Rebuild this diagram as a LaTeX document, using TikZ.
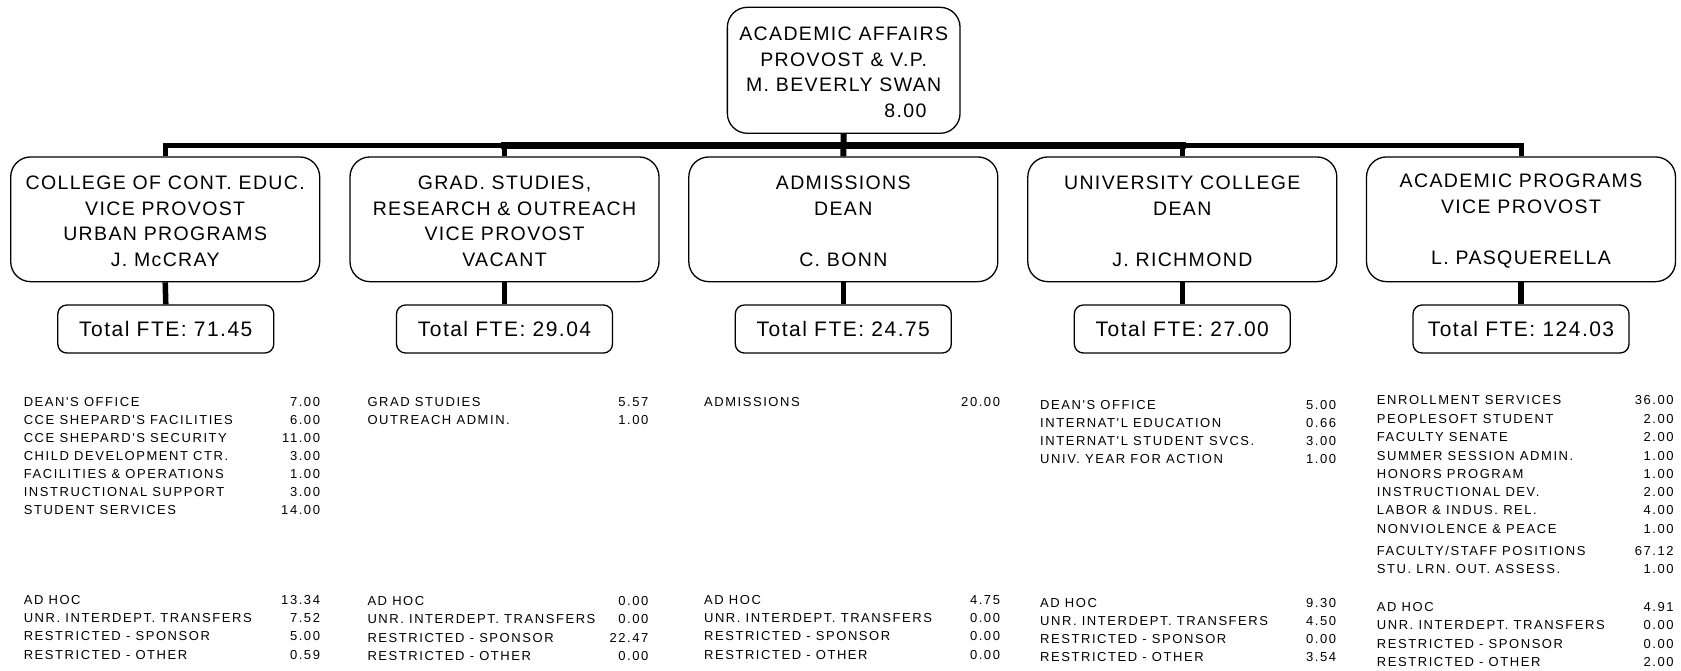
\documentclass[tikz,border=0pt]{standalone}
\usepackage{fontspec}
\newfontfamily\boxfont{Liberation Sans}[LetterSpace=7]
\newfontfamily\listfont{Liberation Sans}[LetterSpace=12]
\newcommand\frow[6]{%
  \node[lab,anchor=base west] (#1l) at (#2,#4) {#5};
  \node[lab,anchor=base east] (#1v) at (#3+1.5,#4) {#6};}
\newcommand\tallstrut{\rule{0pt}{17.2pt}}
\tikzset{
  box/.style={draw, line width=1.3pt, rounded corners=20pt, minimum width=309pt,
    minimum height=124.7pt, align=center, inner sep=0pt,
    font=\boxfont\fontsize{19.5}{25.6}\selectfont},
  topbox/.style={box, minimum width=232.7pt, minimum height=126pt},
  ftebox/.style={draw, line width=1.3pt, rounded corners=9pt, minimum width=216pt,
    minimum height=48pt, inner sep=0pt, font=\boxfont\fontsize{21}{25}\selectfont},
  lab/.style={inner sep=0pt, font=\listfont\fontsize{13}{18}\selectfont},
  bus/.style={line width=5pt, line join=miter},
  stem/.style={line width=5.5pt},
}
\begin{document}
\begin{tikzpicture}[x=1pt,y=-1pt]
\useasboundingbox (0,0) rectangle (1681,670);
% top box
\node[topbox] (top) at (843.7,70.3) {\tallstrut ACADEMIC AFFAIRS\\PROVOST \& V.P.\\M. BEVERLY SWAN\\\hspace*{123.6pt}8.00};
% child boxes
\node[box] (c1) at (165.2,219.3) {\tallstrut COLLEGE OF CONT. EDUC.\\VICE PROVOST\\URBAN PROGRAMS\\J. McCRAY};
\node[box] (c2) at (504.5,219.3) {\tallstrut GRAD. STUDIES,\\RESEARCH \& OUTREACH\\VICE PROVOST\\VACANT};
\node[box] (c3) at (843.3,219.3) {\tallstrut ADMISSIONS\\DEAN\\\mbox{}\\C. BONN};
\node[box] (c4) at (1182.3,219.3) {\tallstrut UNIVERSITY COLLEGE\\DEAN\\\mbox{}\\J. RICHMOND};
\node[box] (c5) at (1521,219.3) {\tallstrut ACADEMIC PROGRAMS\\VICE PROVOST\\\mbox{}\\L. PASQUERELLA};
% FTE boxes
\node[ftebox] (f1) at (165.8,329) {Total FTE: 71.45};
\node[ftebox] (f2) at (504.5,329) {Total FTE: 29.04};
\node[ftebox] (f3) at (843.3,329) {Total FTE: 24.75};
\node[ftebox] (f4) at (1182.3,329) {Total FTE: 27.00};
\node[ftebox] (f5) at (1521,329) {Total FTE: 124.03};
% bus
\coordinate (bar) at (843.3,145.3);
\draw[bus] (c1.north) -- (c1.north |- bar) -- (c5.north |- bar) -- (c5.north);
\draw[line width=7pt, line cap=rect] (c2.north |- bar) -- (c4.north |- bar);
\draw[bus] (c2.north) -- (c2.north |- bar);
\draw[bus] (c4.north) -- (c4.north |- bar);
\draw[line width=6pt] (top.south) -- (c3.north);
% stems
\draw[stem] (c1.south) -- (f1.north);
\draw[stem] (c2.south) -- (f2.north);
\draw[stem] (c3.south) -- (f3.north);
\draw[stem] (c4.south) -- (f4.north);
\draw[stem] (c5.south) -- (f5.north);
% column 1
\frow{a1}{23.6}{318.7}{406}{DEAN'S OFFICE}{7.00}
\frow{a2}{23.6}{318.7}{424}{CCE SHEPARD'S FACILITIES}{6.00}
\frow{a3}{23.6}{318.7}{442}{CCE SHEPARD'S SECURITY}{11.00}
\frow{a4}{23.6}{318.7}{460}{CHILD DEVELOPMENT CTR.}{3.00}
\frow{a5}{23.6}{318.7}{478}{FACILITIES \& OPERATIONS}{1.00}
\frow{a6}{23.6}{318.7}{496}{INSTRUCTIONAL SUPPORT}{3.00}
\frow{a7}{23.6}{318.7}{514}{STUDENT SERVICES}{14.00}
\frow{a8}{23.6}{318.7}{604}{AD HOC}{13.34}
\frow{a9}{23.6}{318.7}{622.4}{UNR. INTERDEPT. TRANSFERS}{7.52}
\frow{a10}{23.6}{318.7}{640.8}{RESTRICTED - SPONSOR}{5.00}
\frow{a11}{23.6}{318.7}{659.2}{RESTRICTED - OTHER}{0.59}
% column 2
\frow{b1}{367.3}{647}{406}{GRAD STUDIES}{5.57}
\frow{b2}{367.3}{647}{424}{OUTREACH ADMIN.}{1.00}
\frow{b8}{367.3}{647}{605.3}{AD HOC}{0.00}
\frow{b9}{367.3}{647}{623.7}{UNR. INTERDEPT. TRANSFERS}{0.00}
\frow{b10}{367.3}{647}{642}{RESTRICTED - SPONSOR}{22.47}
\frow{b11}{367.3}{647}{660.4}{RESTRICTED - OTHER}{0.00}
% column 3
\frow{d1}{703.9}{998.7}{406}{ADMISSIONS}{20.00}
\frow{d8}{703.9}{998.7}{604}{AD HOC}{4.75}
\frow{d9}{703.9}{998.7}{622.4}{UNR. INTERDEPT. TRANSFERS}{0.00}
\frow{d10}{703.9}{998.7}{640.8}{RESTRICTED - SPONSOR}{0.00}
\frow{d11}{703.9}{998.7}{659.2}{RESTRICTED - OTHER}{0.00}
% column 4
\frow{e1}{1040}{1334.8}{409.3}{DEAN'S OFFICE}{5.00}
\frow{e2}{1040}{1334.8}{427.3}{INTERNAT'L EDUCATION}{0.66}
\frow{e3}{1040}{1334.8}{445.3}{INTERNAT'L STUDENT SVCS.}{3.00}
\frow{e4}{1040}{1334.8}{463.3}{UNIV. YEAR FOR ACTION}{1.00}
\frow{e8}{1040}{1334.8}{607.3}{AD HOC}{9.30}
\frow{e9}{1040}{1334.8}{625.5}{UNR. INTERDEPT. TRANSFERS}{4.50}
\frow{e10}{1040}{1334.8}{643.7}{RESTRICTED - SPONSOR}{0.00}
\frow{e11}{1040}{1334.8}{661.9}{RESTRICTED - OTHER}{3.54}
% column 5
\frow{g1}{1376.7}{1672.3}{404.7}{ENROLLMENT SERVICES}{36.00}
\frow{g2}{1376.7}{1672.3}{423}{PEOPLESOFT STUDENT}{2.00}
\frow{g3}{1376.7}{1672.3}{441.4}{FACULTY SENATE}{2.00}
\frow{g4}{1376.7}{1672.3}{460}{SUMMER SESSION ADMIN.}{1.00}
\frow{g5}{1376.7}{1672.3}{478.4}{HONORS PROGRAM}{1.00}
\frow{g6}{1376.7}{1672.3}{496.4}{INSTRUCTIONAL DEV.}{2.00}
\frow{g7}{1376.7}{1672.3}{514.7}{LABOR \& INDUS. REL.}{4.00}
\frow{g8}{1376.7}{1672.3}{533.5}{NONVIOLENCE \& PEACE}{1.00}
\frow{g9}{1376.7}{1672.3}{555}{FACULTY/STAFF POSITIONS}{67.12}
\frow{g10}{1376.7}{1672.3}{573.5}{STU. LRN. OUT. ASSESS.}{1.00}
\frow{g11}{1376.7}{1672.3}{611.4}{AD HOC}{4.91}
\frow{g12}{1376.7}{1672.3}{629.7}{UNR. INTERDEPT. TRANSFERS}{0.00}
\frow{g13}{1376.7}{1672.3}{648}{RESTRICTED - SPONSOR}{0.00}
\frow{g14}{1376.7}{1672.3}{666.4}{RESTRICTED - OTHER}{2.00}
\end{tikzpicture}
\end{document}
